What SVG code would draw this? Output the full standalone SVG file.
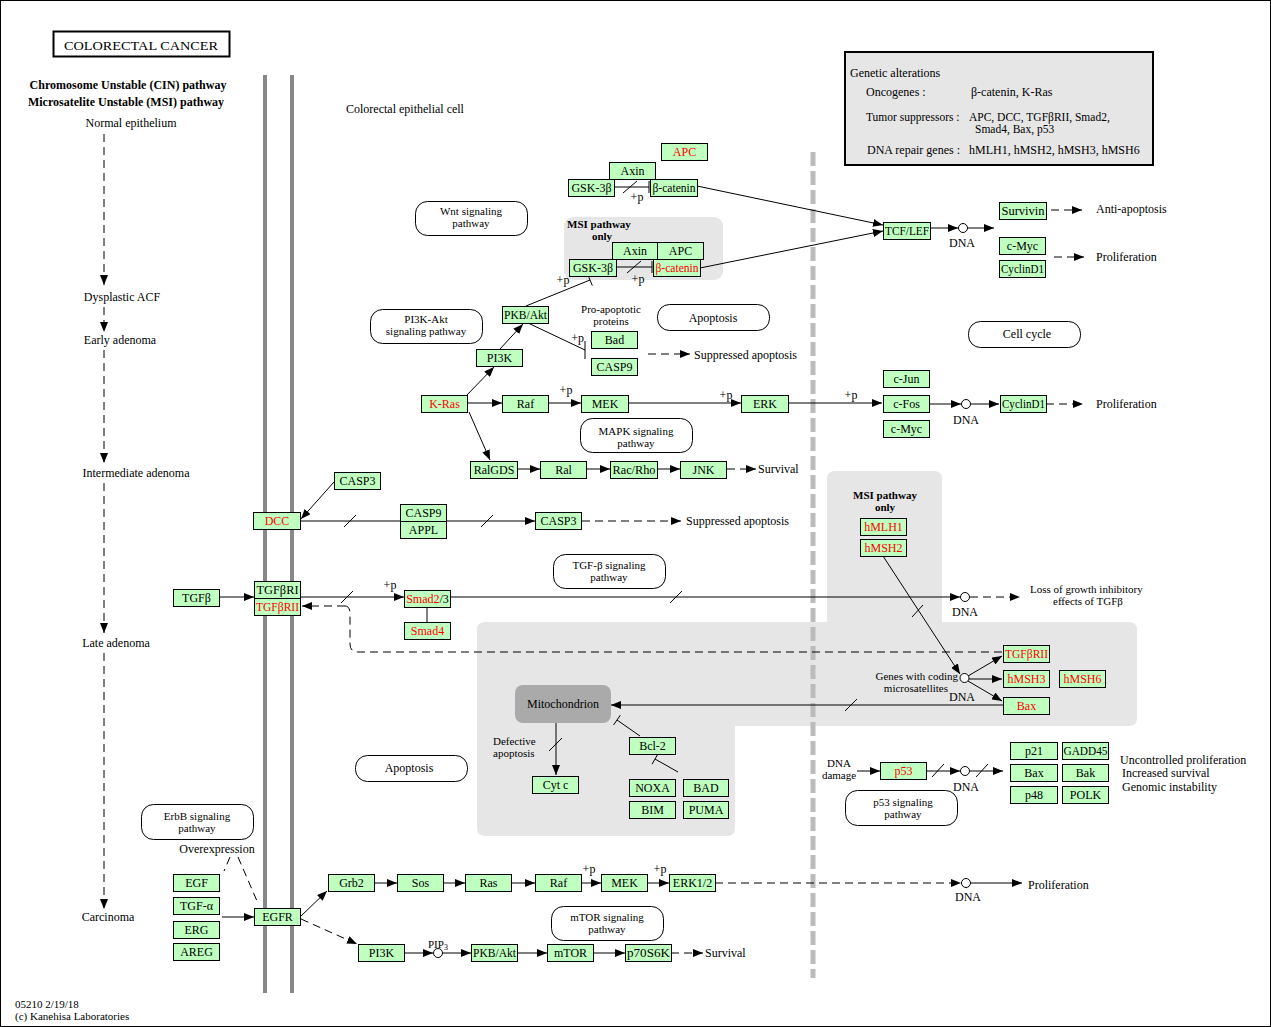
<svg xmlns="http://www.w3.org/2000/svg" width="1271" height="1027" viewBox="0 0 1271 1027">
<defs>
<marker id="a" viewBox="0 0 10 8" refX="10" refY="4" markerWidth="10" markerHeight="8" markerUnits="userSpaceOnUse" orient="auto"><path d="M0,0L10,4L0,8z" fill="#000"/></marker>
</defs>
<style>
text{font-family:"Liberation Serif","Times New Roman",serif;font-size:12px;fill:#000}
.c{text-anchor:middle}
.e{text-anchor:end}
.b{font-weight:bold}
.red{fill:#f00}
.n{fill:#bfffbf;stroke:#000;stroke-width:1}
.pw{fill:#fff;stroke:#000;stroke-width:1}
.l{stroke:#000;stroke-width:1;fill:none}
.d{stroke-dasharray:8,5}
.ar{marker-end:url(#a)}
.dna{fill:#fff;stroke:#000;stroke-width:1}
.mem{stroke:#888;stroke-width:4}
.sm{font-size:11px}
.s2{font-size:11px}
.lg{font-size:11.5px}
</style>
<rect x="0.5" y="0.5" width="1270" height="1026" fill="#fff" stroke="#000"/>

<g id="background">
<rect x="564" y="217" width="159" height="63" rx="9" fill="#e6e6e6"/>
<path d="M835,471 H934 Q942,471 942,479 V622 H1129 Q1137,622 1137,630 V718 Q1137,726 1129,726 H735 V828 Q735,836 727,836 H485 Q477,836 477,828 V630 Q477,622 485,622 H827 V479 Q827,471 835,471 Z" fill="#e6e6e6"/>
<line class="mem" x1="265" y1="75" x2="265" y2="993"/>
<line class="mem" x1="292" y1="75" x2="292" y2="993"/>
<line x1="813" y1="152" x2="813" y2="978" stroke="#bbb" stroke-width="5" stroke-dasharray="14,5"/>
</g>

<g id="title">
<rect x="53.5" y="31.5" width="176" height="25" fill="#fff" stroke="#000" stroke-width="2"/>
<text class="c" x="141" y="49.5" font-size="14" textLength="154" lengthAdjust="spacingAndGlyphs">COLORECTAL  CANCER</text>
</g>

<g id="legend">
<rect x="845" y="52" width="308" height="113" fill="#e6e6e6" stroke="#000" stroke-width="2"/>
<text x="850" y="77">Genetic alterations</text>
<text x="866" y="96">Oncogenes :</text>
<text x="971" y="96">β-catenin, K-Ras</text>
<text x="866" y="121" class="lg">Tumor suppressors :</text>
<text x="969" y="121" class="lg">APC, DCC, TGFβRII, Smad2,</text>
<text x="975" y="133" class="lg">Smad4, Bax, p53</text>
<text x="867" y="154">DNA repair genes :</text>
<text x="969" y="154">hMLH1, hMSH2, hMSH3, hMSH6</text>
</g>

<g id="labels">
<text class="c b" x="128" y="89">Chromosome Unstable (CIN) pathway</text>
<text class="c b" x="126" y="106">Microsatelite Unstable (MSI) pathway</text>
<text class="c" x="131" y="127">Normal epithelium</text>
<text class="c" x="122" y="301">Dysplastic ACF</text>
<text class="c" x="120" y="344">Early adenoma</text>
<text class="c" x="136" y="477">Intermediate adenoma</text>
<text class="c" x="116" y="647">Late adenoma</text>
<text class="c" x="108" y="921">Carcinoma</text>
<text x="346" y="113">Colorectal epithelial cell</text>
<text class="b s2" x="567" y="228">MSI pathway</text>
<text class="b c s2" x="602" y="240">only</text>
<text class="b c s2" x="885" y="499">MSI pathway</text>
<text class="b c s2" x="885" y="511">only</text>
<text class="c s2" x="611" y="313">Pro-apoptotic</text>
<text class="c s2" x="611" y="325">proteins</text>
<text x="694" y="359">Suppressed apoptosis</text>
<text x="758" y="473">Survival</text>
<text x="686" y="525">Suppressed apoptosis</text>
<text x="1096" y="213">Anti-apoptosis</text>
<text x="1096" y="261">Proliferation</text>
<text x="1096" y="408">Proliferation</text>
<text class="c" x="962" y="247">DNA</text>
<text class="c" x="966" y="424">DNA</text>
<text class="c" x="965" y="616">DNA</text>
<text class="s2" x="1030" y="593">Loss of growth inhibitory</text>
<text class="s2" x="1053" y="605">effects of TGFβ</text>
<text class="e s2" x="958" y="680">Genes with coding</text>
<text class="e s2" x="948" y="692">microsatellites</text>
<text class="c" x="962" y="701">DNA</text>
<text class="s2" x="493" y="745">Defective</text>
<text class="s2" x="493" y="757">apoptosis</text>
<text class="c s2" x="839" y="767">DNA</text>
<text class="c s2" x="839" y="779">damage</text>
<text class="c" x="966" y="791">DNA</text>
<text x="1120" y="764">Uncontrolled proliferation</text>
<text x="1122" y="777">Increased survival</text>
<text x="1122" y="791">Genomic instability</text>
<text class="c" x="217" y="853">Overexpression</text>
<text x="1028" y="889">Proliferation</text>
<text class="c" x="968" y="901">DNA</text>
<text x="428" y="948" class="sm">PIP<tspan font-size="8" dy="2">3</tspan></text>
<text x="705" y="957">Survival</text>
<text x="15" y="1008" class="sm">05210 2/19/18</text>
<text x="15" y="1020" class="sm">(c) Kanehisa Laboratories</text>
<text class="c" x="637" y="201">+p</text>
<text class="c" x="638" y="283">+p</text>
<text class="c" x="563" y="284">+p</text>
<text class="e" x="584" y="342">+p</text>
<text class="c" x="566" y="394">+p</text>
<text class="c" x="726" y="399">+p</text>
<text class="c" x="851" y="399">+p</text>
<text class="c" x="390" y="589">+p</text>
<text class="c" x="589" y="873">+p</text>
<text class="c" x="660" y="873">+p</text>
</g>

<g id="pathways">
<g id="pw-wnt"><rect class="pw" x="415.5" y="201.5" width="112" height="34" rx="12"/><text class="c s2" x="471" y="215">Wnt signaling</text><text class="c s2" x="471" y="227">pathway</text></g>
<g id="pw-pi3k"><rect class="pw" x="370.5" y="309.5" width="112" height="34" rx="12"/><text class="c s2" x="426" y="323">PI3K-Akt</text><text class="c s2" x="426" y="335">signaling pathway</text></g>
<g id="pw-apop1"><rect class="pw" x="657.5" y="304.5" width="112" height="26" rx="12"/><text class="c" x="713" y="322">Apoptosis</text></g>
<g id="pw-mapk"><rect class="pw" x="580.5" y="418.5" width="112" height="34" rx="12"/><text class="c s2" x="636" y="435">MAPK signaling</text><text class="c s2" x="636" y="447">pathway</text></g>
<g id="pw-cell"><rect class="pw" x="968.5" y="321.5" width="112" height="26" rx="12"/><text class="c" x="1027" y="338">Cell cycle</text></g>
<g id="pw-tgf"><rect class="pw" x="553.5" y="554.5" width="112" height="34" rx="12"/><text class="c s2" x="609" y="569">TGF-β signaling</text><text class="c s2" x="609" y="581">pathway</text></g>
<g id="pw-apop2"><rect class="pw" x="355.5" y="755.5" width="112" height="26" rx="12"/><text class="c" x="409" y="772">Apoptosis</text></g>
<g id="pw-p53"><rect class="pw" x="845.5" y="790.5" width="112" height="35" rx="12"/><text class="c s2" x="903" y="806">p53 signaling</text><text class="c s2" x="903" y="818">pathway</text></g>
<g id="pw-erbb"><rect class="pw" x="141.5" y="804.5" width="112" height="35" rx="12"/><text class="c s2" x="197" y="820">ErbB signaling</text><text class="c s2" x="197" y="832">pathway</text></g>
<g id="pw-mtor"><rect class="pw" x="551.5" y="906.5" width="112" height="34" rx="12"/><text class="c s2" x="607" y="921">mTOR signaling</text><text class="c s2" x="607" y="933">pathway</text></g>
</g>

<g id="connectors">
<line class="l d ar" x1="104" y1="134" x2="104" y2="285"/>
<line class="l d ar" x1="104" y1="307" x2="104" y2="332"/>
<line class="l d ar" x1="104" y1="350" x2="104" y2="463"/>
<line class="l d ar" x1="104" y1="483" x2="104" y2="633"/>
<line class="l d ar" x1="104" y1="653" x2="104" y2="909"/>
<line class="l" x1="614" y1="187" x2="649" y2="187"/><line class="l" x1="649" y1="181" x2="649" y2="193"/><line class="l" x1="623" y1="193" x2="637" y2="181"/>
<line class="l ar" x1="697" y1="186" x2="883" y2="225"/>
<line class="l" x1="616" y1="267" x2="652" y2="267"/><line class="l" x1="652" y1="261" x2="652" y2="273"/><line class="l" x1="627" y1="273" x2="641" y2="261"/>
<line class="l ar" x1="700" y1="268" x2="883" y2="231"/>
<line class="l" x1="526" y1="306" x2="590" y2="280"/><line class="l" x1="587.7" y1="274.4" x2="592.3" y2="285.6"/>
<line class="l ar" x1="930" y1="228" x2="958" y2="228"/>
<line class="l ar" x1="967.5" y1="228" x2="994" y2="228"/>
<line class="l d ar" x1="1051" y1="210" x2="1082" y2="210"/>
<line class="l d ar" x1="1054" y1="257" x2="1084" y2="257"/>
<line class="l ar" x1="467" y1="395" x2="494" y2="367"/>
<line class="l ar" x1="500" y1="349" x2="523" y2="324"/>
<line class="l" x1="528" y1="323" x2="585" y2="350"/><line class="l" x1="585" y1="341" x2="585" y2="359"/>
<line class="l d ar" x1="648" y1="354" x2="690" y2="354"/>
<line class="l ar" x1="467" y1="403" x2="502" y2="403"/>
<line class="l ar" x1="548" y1="403" x2="581" y2="403"/>
<line class="l ar" x1="628" y1="403" x2="741" y2="403"/>
<line class="l ar" x1="788" y1="403" x2="882" y2="403"/>
<line class="l ar" x1="929" y1="404" x2="961" y2="404"/>
<line class="l ar" x1="970.5" y1="404" x2="999" y2="404"/>
<line class="l d ar" x1="1046" y1="404" x2="1083" y2="404"/>
<line class="l ar" x1="469" y1="412" x2="490" y2="460"/>
<line class="l ar" x1="517" y1="469" x2="540" y2="469"/>
<line class="l ar" x1="586" y1="469" x2="610" y2="469"/>
<line class="l ar" x1="657" y1="469" x2="680" y2="469"/>
<line class="l d ar" x1="727" y1="469" x2="756" y2="469"/>
<line class="l ar" x1="334" y1="482" x2="301" y2="519"/>
<line class="l ar" x1="300" y1="521" x2="535" y2="521"/>
<line class="l" x1="344" y1="527" x2="356" y2="515"/><line class="l" x1="481" y1="527" x2="493" y2="515"/>
<line class="l d ar" x1="582" y1="521" x2="681" y2="521"/>
<line class="l ar" x1="219" y1="597" x2="254" y2="597"/>
<line class="l ar" x1="300" y1="597" x2="404" y2="597"/>
<line class="l" x1="341" y1="603" x2="353" y2="591"/>
<line class="l d ar" x1="345" y1="606" x2="302" y2="606"/>
<path class="l d" d="M345,606 Q350,606 350,614 V644 Q350,652 358,652 H1003"/>
<line class="l" x1="427" y1="607" x2="427" y2="622"/>
<line class="l ar" x1="450" y1="597" x2="960" y2="597"/>
<line class="l" x1="670" y1="603" x2="682" y2="591"/>
<line class="l d ar" x1="970" y1="597" x2="1020" y2="597"/>
<line class="l ar" x1="883" y1="556" x2="960" y2="674"/>
<line class="l" x1="912" y1="617" x2="923" y2="605"/>
<line class="l ar" x1="968" y1="676" x2="1002" y2="656"/>
<line class="l ar" x1="969" y1="679" x2="1002" y2="679"/>
<line class="l ar" x1="968" y1="681" x2="1002" y2="701"/>
<line class="l ar" x1="1003" y1="705" x2="611" y2="705"/>
<line class="l" x1="845" y1="711" x2="857" y2="699"/>
<line class="l ar" x1="556" y1="723" x2="556" y2="775"/>
<line class="l" x1="549" y1="751" x2="562" y2="738"/>
<line class="l" x1="640" y1="736" x2="617" y2="720"/><line class="l" x1="620.4" y1="715.1" x2="613.6" y2="724.9"/>
<line class="l" x1="678" y1="772" x2="655" y2="759"/><line class="l" x1="658" y1="753.8" x2="652" y2="764.2"/>
<line class="l ar" x1="857" y1="771" x2="880" y2="771"/>
<line class="l ar" x1="926" y1="771" x2="960" y2="771"/>
<line class="l" x1="932" y1="777" x2="944" y2="764"/>
<line class="l ar" x1="969.5" y1="771" x2="1003" y2="771"/>
<line class="l" x1="976" y1="777" x2="988" y2="764"/>
<line class="l d" x1="230" y1="857" x2="224" y2="871"/>
<line class="l d" x1="238" y1="857" x2="257" y2="901"/>
<line class="l ar" x1="222" y1="917" x2="254" y2="917"/>
<line class="l ar" x1="301" y1="916" x2="327" y2="891"/>
<line class="l d ar" x1="301" y1="919" x2="357" y2="944"/>
<line class="l ar" x1="374" y1="883" x2="397" y2="883"/>
<line class="l ar" x1="443" y1="883" x2="465" y2="883"/>
<line class="l ar" x1="511" y1="883" x2="535" y2="883"/>
<line class="l ar" x1="581" y1="883" x2="601" y2="883"/>
<line class="l ar" x1="647" y1="883" x2="669" y2="883"/>
<line class="l d ar" x1="715" y1="883" x2="961" y2="883"/>
<line class="l ar" x1="970.5" y1="883" x2="1022" y2="883"/>
<line class="l ar" x1="404" y1="953" x2="433" y2="953"/>
<line class="l ar" x1="442.5" y1="953" x2="471" y2="953"/>
<line class="l ar" x1="517" y1="953" x2="547" y2="953"/>
<line class="l ar" x1="593" y1="953" x2="625" y2="953"/>
<line class="l d ar" x1="671" y1="953" x2="703" y2="953"/>
<circle class="dna" cx="963" cy="228" r="4.5"/>
<circle class="dna" cx="966" cy="404" r="4.5"/>
<circle class="dna" cx="965" cy="597" r="4.5"/>
<circle class="dna" cx="964.5" cy="678" r="4.5"/>
<circle class="dna" cx="965" cy="771" r="4.5"/>
<circle class="dna" cx="966" cy="883" r="4.5"/>
<circle class="dna" cx="438" cy="953" r="4.5"/>
</g>

<g id="nodes">
<g id="APC1"><rect class="n" x="661.5" y="143.5" width="46" height="17"/><text class="c red" x="684.5" y="156">APC</text></g>
<g id="Axin1"><rect class="n" x="609.5" y="162.5" width="46" height="17"/><text class="c" x="632.5" y="175">Axin</text></g>
<g id="GSK1"><rect class="n" x="568.5" y="179.5" width="46" height="17"/><text class="c" x="591.5" y="192">GSK-3β</text></g>
<g id="bcat1"><rect class="n" x="650.5" y="179.5" width="47" height="17"/><text class="c" x="674" y="192" textLength="43" lengthAdjust="spacingAndGlyphs">β-catenin</text></g>
<g id="Axin2"><rect class="n" x="612.5" y="242.5" width="45" height="17"/><text class="c" x="635" y="255">Axin</text></g>
<g id="APC2"><rect class="n" x="657.5" y="242.5" width="46" height="17"/><text class="c" x="680.5" y="255">APC</text></g>
<g id="GSK2"><rect class="n" x="569.5" y="259.5" width="47" height="17"/><text class="c" x="593" y="272">GSK-3β</text></g>
<g id="bcat2"><rect class="n" x="653.5" y="259.5" width="47" height="17"/><text class="c red" x="677" y="272" textLength="43" lengthAdjust="spacingAndGlyphs">β-catenin</text></g>
<g id="TCF"><rect class="n" x="883.5" y="222.5" width="47" height="17"/><text class="c" x="907" y="235" textLength="44" lengthAdjust="spacingAndGlyphs">TCF/LEF</text></g>
<g id="Survivin"><rect class="n" x="999.5" y="202.5" width="47" height="17"/><text class="c" x="1023" y="215" textLength="43" lengthAdjust="spacingAndGlyphs">Survivin</text></g>
<g id="cMyc1"><rect class="n" x="999.5" y="237.5" width="46" height="17"/><text class="c" x="1022.5" y="250">c-Myc</text></g>
<g id="CyclinD1a"><rect class="n" x="999.5" y="260.5" width="46" height="17"/><text class="c" x="1022.5" y="273" textLength="43" lengthAdjust="spacingAndGlyphs">CyclinD1</text></g>
<g id="cJun"><rect class="n" x="883.5" y="370.5" width="46" height="17"/><text class="c" x="906.5" y="383">c-Jun</text></g>
<g id="cFos"><rect class="n" x="883.5" y="395.5" width="46" height="17"/><text class="c" x="906.5" y="408">c-Fos</text></g>
<g id="cMyc2"><rect class="n" x="883.5" y="420.5" width="46" height="17"/><text class="c" x="906.5" y="433">c-Myc</text></g>
<g id="CyclinD1b"><rect class="n" x="1000.5" y="395.5" width="46" height="17"/><text class="c" x="1023.5" y="408" textLength="43" lengthAdjust="spacingAndGlyphs">CyclinD1</text></g>
<g id="PKB1"><rect class="n" x="502.5" y="306.5" width="46" height="17"/><text class="c" x="525.5" y="319" textLength="43" lengthAdjust="spacingAndGlyphs">PKB/Akt</text></g>
<g id="PI3K1"><rect class="n" x="476.5" y="349.5" width="46" height="17"/><text class="c" x="499.5" y="362">PI3K</text></g>
<g id="KRas"><rect class="n" x="421.5" y="395.5" width="46" height="17"/><text class="c red" x="444.5" y="408">K-Ras</text></g>
<g id="Raf1"><rect class="n" x="502.5" y="395.5" width="46" height="17"/><text class="c" x="525.5" y="408">Raf</text></g>
<g id="MEK1"><rect class="n" x="581.5" y="395.5" width="47" height="17"/><text class="c" x="605" y="408">MEK</text></g>
<g id="ERK1"><rect class="n" x="741.5" y="395.5" width="47" height="17"/><text class="c" x="765" y="408">ERK</text></g>
<g id="RalGDS"><rect class="n" x="470.5" y="461.5" width="47" height="17"/><text class="c" x="494" y="474">RalGDS</text></g>
<g id="Ral"><rect class="n" x="540.5" y="461.5" width="46" height="17"/><text class="c" x="563.5" y="474">Ral</text></g>
<g id="RacRho"><rect class="n" x="610.5" y="461.5" width="47" height="17"/><text class="c" x="634" y="474" textLength="43" lengthAdjust="spacingAndGlyphs">Rac/Rho</text></g>
<g id="JNK"><rect class="n" x="680.5" y="461.5" width="46" height="17"/><text class="c" x="703.5" y="474">JNK</text></g>
<g id="Bad"><rect class="n" x="591.5" y="331.5" width="46" height="17"/><text class="c" x="614.5" y="344">Bad</text></g>
<g id="CASP9a"><rect class="n" x="591.5" y="358.5" width="46" height="17"/><text class="c" x="614.5" y="371">CASP9</text></g>
<g id="CASP3a"><rect class="n" x="334.5" y="472.5" width="46" height="17"/><text class="c" x="357.5" y="485">CASP3</text></g>
<g id="DCC"><rect class="n" x="253.5" y="512.5" width="47" height="17"/><text class="c red" x="277" y="525">DCC</text></g>
<g id="CASP9b"><rect class="n" x="400.5" y="504.5" width="46" height="17"/><text class="c" x="423.5" y="517">CASP9</text></g>
<g id="APPL"><rect class="n" x="400.5" y="521.5" width="46" height="17"/><text class="c" x="423.5" y="534">APPL</text></g>
<g id="CASP3b"><rect class="n" x="535.5" y="512.5" width="46" height="17"/><text class="c" x="558.5" y="525">CASP3</text></g>
<g id="TGFb"><rect class="n" x="173.5" y="589.5" width="46" height="17"/><text class="c" x="196.5" y="602">TGFβ</text></g>
<g id="TGFbRI"><rect class="n" x="254.5" y="581.5" width="46" height="17"/><text class="c" x="277.5" y="594" textLength="42" lengthAdjust="spacingAndGlyphs">TGFβRI</text></g>
<g id="TGFbRII"><rect class="n" x="254.5" y="598.5" width="46" height="17"/><text class="c red" x="277.5" y="611" textLength="43" lengthAdjust="spacingAndGlyphs">TGFβRII</text></g>
<g id="Smad23"><rect class="n" x="404.5" y="590.5" width="46" height="17"/><text class="c" x="427.5" y="603"><tspan class="red">Smad2</tspan>/3</text></g>
<g id="Smad4"><rect class="n" x="404.5" y="622.5" width="46" height="17"/><text class="c red" x="427.5" y="635">Smad4</text></g>
<g id="hMLH1"><rect class="n" x="860.5" y="518.5" width="46" height="17"/><text class="c red" x="883.5" y="531">hMLH1</text></g>
<g id="hMSH2"><rect class="n" x="860.5" y="539.5" width="46" height="17"/><text class="c red" x="883.5" y="552">hMSH2</text></g>
<g id="TGFbRII2"><rect class="n" x="1003.5" y="645.5" width="46" height="17"/><text class="c red" x="1026.5" y="658" textLength="43" lengthAdjust="spacingAndGlyphs">TGFβRII</text></g>
<g id="hMSH3"><rect class="n" x="1003.5" y="670.5" width="46" height="17"/><text class="c red" x="1026.5" y="683">hMSH3</text></g>
<g id="hMSH6"><rect class="n" x="1059.5" y="670.5" width="46" height="17"/><text class="c red" x="1082.5" y="683">hMSH6</text></g>
<g id="BaxR"><rect class="n" x="1003.5" y="697.5" width="46" height="17"/><text class="c red" x="1026.5" y="710">Bax</text></g>
<g id="Mito"><rect x="515" y="685" width="96" height="38" rx="8" fill="#aaa"/><text class="c" x="563" y="708">Mitochondrion</text></g>
<g id="Cytc"><rect class="n" x="532.5" y="776.5" width="46" height="17"/><text class="c" x="555.5" y="789">Cyt c</text></g>
<g id="Bcl2"><rect class="n" x="629.5" y="737.5" width="46" height="17"/><text class="c" x="652.5" y="750">Bcl-2</text></g>
<g id="NOXA"><rect class="n" x="629.5" y="779.5" width="46" height="17"/><text class="c" x="652.5" y="792">NOXA</text></g>
<g id="BAD"><rect class="n" x="683.5" y="779.5" width="45" height="17"/><text class="c" x="706" y="792">BAD</text></g>
<g id="BIM"><rect class="n" x="629.5" y="801.5" width="46" height="17"/><text class="c" x="652.5" y="814">BIM</text></g>
<g id="PUMA"><rect class="n" x="683.5" y="801.5" width="45" height="17"/><text class="c" x="706" y="814">PUMA</text></g>
<g id="p53"><rect class="n" x="880.5" y="762.5" width="46" height="17"/><text class="c red" x="903.5" y="775">p53</text></g>
<g id="p21"><rect class="n" x="1010.5" y="742.5" width="47" height="17"/><text class="c" x="1034" y="755">p21</text></g>
<g id="GADD45"><rect class="n" x="1062.5" y="742.5" width="46" height="17"/><text class="c" x="1085.5" y="755" textLength="44" lengthAdjust="spacingAndGlyphs">GADD45</text></g>
<g id="Bax"><rect class="n" x="1010.5" y="764.5" width="47" height="17"/><text class="c" x="1034" y="777">Bax</text></g>
<g id="Bak"><rect class="n" x="1062.5" y="764.5" width="46" height="17"/><text class="c" x="1085.5" y="777">Bak</text></g>
<g id="p48"><rect class="n" x="1010.5" y="786.5" width="47" height="17"/><text class="c" x="1034" y="799">p48</text></g>
<g id="POLK"><rect class="n" x="1062.5" y="786.5" width="46" height="17"/><text class="c" x="1085.5" y="799">POLK</text></g>
<g id="EGF"><rect class="n" x="173.5" y="874.5" width="46" height="17"/><text class="c" x="196.5" y="887">EGF</text></g>
<g id="TGFa"><rect class="n" x="173.5" y="897.5" width="46" height="17"/><text class="c" x="196.5" y="910">TGF-α</text></g>
<g id="ERG"><rect class="n" x="173.5" y="921.5" width="46" height="17"/><text class="c" x="196.5" y="934">ERG</text></g>
<g id="AREG"><rect class="n" x="173.5" y="943.5" width="46" height="17"/><text class="c" x="196.5" y="956">AREG</text></g>
<g id="EGFR"><rect class="n" x="254.5" y="908.5" width="46" height="17"/><text class="c" x="277.5" y="921">EGFR</text></g>
<g id="Grb2"><rect class="n" x="328.5" y="874.5" width="46" height="17"/><text class="c" x="351.5" y="887">Grb2</text></g>
<g id="Sos"><rect class="n" x="397.5" y="874.5" width="46" height="17"/><text class="c" x="420.5" y="887">Sos</text></g>
<g id="Ras"><rect class="n" x="465.5" y="874.5" width="46" height="17"/><text class="c" x="488.5" y="887">Ras</text></g>
<g id="Raf2"><rect class="n" x="535.5" y="874.5" width="46" height="17"/><text class="c" x="558.5" y="887">Raf</text></g>
<g id="MEK2"><rect class="n" x="601.5" y="874.5" width="46" height="17"/><text class="c" x="624.5" y="887">MEK</text></g>
<g id="ERK12"><rect class="n" x="669.5" y="874.5" width="46" height="17"/><text class="c" x="692.5" y="887">ERK1/2</text></g>
<g id="PI3K2"><rect class="n" x="358.5" y="944.5" width="46" height="17"/><text class="c" x="381.5" y="957">PI3K</text></g>
<g id="PKB2"><rect class="n" x="471.5" y="944.5" width="46" height="17"/><text class="c" x="494.5" y="957" textLength="43" lengthAdjust="spacingAndGlyphs">PKB/Akt</text></g>
<g id="mTOR"><rect class="n" x="547.5" y="944.5" width="46" height="17"/><text class="c" x="570.5" y="957">mTOR</text></g>
<g id="p70S6K"><rect class="n" x="625.5" y="944.5" width="46" height="17"/><text class="c" x="648.5" y="957" textLength="43" lengthAdjust="spacingAndGlyphs">p70S6K</text></g>
</g>
</svg>
